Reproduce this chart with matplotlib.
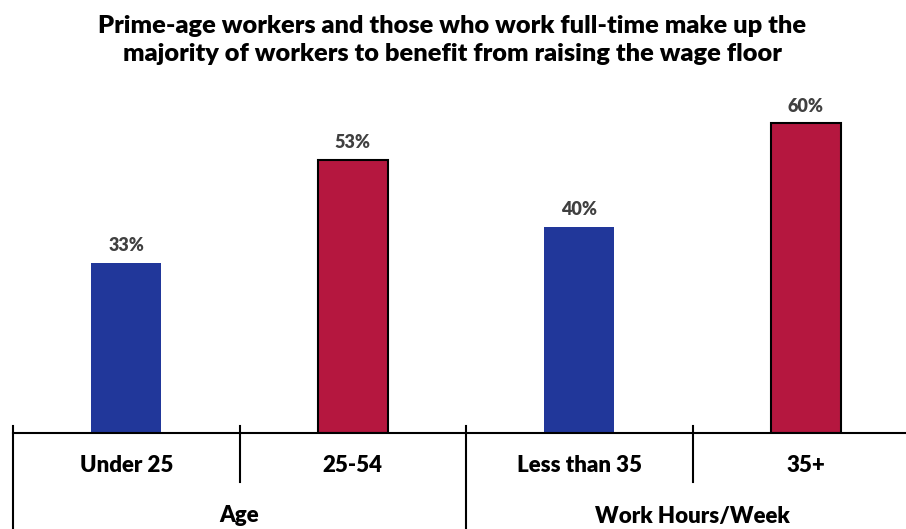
import matplotlib
matplotlib.use("Agg")
import matplotlib.pyplot as plt
from matplotlib.lines import Line2D

categories = ["Under 25", "25-54", "Less than 35", "35+"]
groups = ["Age", "Work Hours/Week"]
values = [33, 53, 40, 60]
colors = ["#21379A", "#B5173F", "#21379A", "#B5173F"]
edges = ["none", "black", "none", "black"]

plt.rcParams['font.family'] = ['Lato', 'DejaVu Sans']
WEIGHT = "heavy"

W, H = 906, 529
fig = plt.figure(figsize=(W/100, H/100), dpi=100)
left, right = 13, 919
base = 433
ppu = 5.16
ymax = 70
top = base - ymax*ppu
ax = fig.add_axes([left/W, (H-base)/H, (right-left)/W, (base-top)/H])
ax.set_xlim(-0.5, 3.5)
ax.set_ylim(0, ymax)
x = range(len(categories))
ax.bar(x, values, width=0.31, color=colors, edgecolor=edges, linewidth=1.5, zorder=2)
for xi, v in zip(x, values):
    ax.text(xi, v + 1.7, f"{v}%", ha="center", va="bottom", fontsize=13,
            fontweight=WEIGHT, color="#404040")
for s in ["top", "right", "left"]:
    ax.spines[s].set_visible(False)
ax.spines["bottom"].set_linewidth(1.5)
ax.set_xticks([])
ax.set_yticks([])

def px2fig(px, py):
    return px / W, 1 - py / H

def vline(px, y0, y1):
    fx, fy0 = px2fig(px, y0)
    _, fy1 = px2fig(px, y1)
    fig.add_artist(Line2D([fx, fx], [fy0, fy1], color="black", lw=1.5))

spacing = (right - left) / 4
vline(left, 426, 529)
vline(left + spacing, 426, 482)
vline(left + 2*spacing, 426, 529)
vline(left + 3*spacing, 426, 482)

for i, c in enumerate(categories):
    cx = left + spacing*(i + 0.5)
    fx, fy = px2fig(cx, 466)
    fig.text(fx, fy, c, ha="center", va="center", fontsize=16, fontweight=WEIGHT, color="black")
for i, g in enumerate(groups):
    cx = left + spacing*(2*i + 1)
    fx, fy = px2fig(cx, 516)
    fig.text(fx, fy, g, ha="center", va="center", fontsize=16, fontweight=WEIGHT, color="black")

fx, fy = px2fig(452, 40)
fig.text(fx, fy, "Prime-age workers and those who work full-time make up the\nmajority of workers to benefit from raising the wage floor",
         ha="center", va="center", fontsize=18.3, fontweight=WEIGHT, color="black", linespacing=1.32)

fig.savefig("out.png", dpi=100)
